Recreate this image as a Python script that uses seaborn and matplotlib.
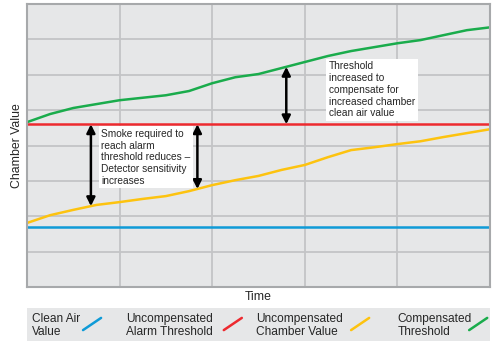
import numpy as np
import pandas as pd
import matplotlib
matplotlib.use("Agg")
import matplotlib.pyplot as plt
import seaborn as sns

# Data (time in grid columns, value in grid rows)
time = [0, 0.25, 0.5, 0.75, 1.0, 1.25, 1.5, 1.75, 2.0, 2.25, 2.5,
        2.75, 3.0, 3.25, 3.5, 3.75, 4.0, 4.25, 4.5, 4.75, 5.0]
compensated = [4.66, 4.89, 5.06, 5.17, 5.28, 5.35, 5.42, 5.54, 5.76, 5.93, 6.02,
               6.19, 6.36, 6.53, 6.67, 6.78, 6.89, 6.98, 7.12, 7.26, 7.34]
chamber = [1.81, 2.03, 2.18, 2.32, 2.40, 2.49, 2.57, 2.71, 2.88, 3.02, 3.14,
           3.31, 3.45, 3.67, 3.87, 3.95, 4.04, 4.12, 4.24, 4.35, 4.46]
clean_air = [1.70] * len(time)
alarm = [4.60] * len(time)

series_names = ["Clean Air\nValue", "Uncompensated\nAlarm Threshold",
                "Uncompensated\nChamber Value", "Compensated\nThreshold"]
series_colors = ["#0f9bd7", "#ed2a2f", "#fdc30f", "#1aac4c"]

# arrow positions (time) for the annotations
smoke_arrows = [0.69, 1.84]
comp_arrow = 2.80

df = pd.DataFrame({
    "time": time * 4,
    "value": clean_air + alarm + chamber + compensated,
    "series": sum([[n] * len(time) for n in series_names], []),
})

sns.set_style("white")
plt.rcParams["font.family"] = ["Liberation Sans", "DejaVu Sans"]

fig = plt.figure(figsize=(4.97, 3.41), dpi=100)
ax = fig.add_axes([27 / 497, 54 / 341, 463 / 497, 283 / 341])
ax.set_facecolor("#e6e7e8")

sns.lineplot(data=df, x="time", y="value", hue="series", hue_order=series_names,
             palette=series_colors, linewidth=1.8, legend=False, ax=ax)

ax.set_xlim(0, 5)
ax.set_ylim(0, 8)
ax.set_xticks(np.arange(0, 6, 1))
ax.set_yticks(np.arange(0, 9, 1))
ax.tick_params(length=0, labelbottom=False, labelleft=False)
ax.grid(True, color="#c3c4c6", linewidth=1.3)
ax.set_axisbelow(True)
for sp in ax.spines.values():
    sp.set_color("#a7a9ab")
    sp.set_linewidth(1.5)

ax.set_xlabel("Time", fontsize=8.8, labelpad=3)
ax.set_ylabel("Chamber Value", fontsize=8.8, labelpad=3)

# double headed arrows
arrow_kw = dict(arrowstyle="<|-|>,head_length=0.5,head_width=0.25",
                color="black", lw=1.8, shrinkA=0, shrinkB=0)
for t in smoke_arrows:
    ax.annotate("", xy=(t, np.interp(t, time, chamber)), xytext=(t, alarm[0]),
                arrowprops=arrow_kw, zorder=5)
ax.annotate("", xy=(comp_arrow, np.interp(comp_arrow, time, compensated)),
            xytext=(comp_arrow, alarm[0]), arrowprops=arrow_kw, zorder=5)

box = dict(boxstyle="square,pad=0.25", fc="white", ec="none")
ax.text(0.80, 4.47, "Smoke required to\nreach alarm\nthreshold reduces –\nDetector sensitivity\nincreases",
        fontsize=7.3, va="top", ha="left", linespacing=1.22, bbox=box, zorder=6)
ax.text(3.26, 6.38, "Threshold\nincreased to\ncompensate for\nincreased chamber\nclean air value",
        fontsize=7.3, va="top", ha="left", linespacing=1.22, bbox=box, zorder=6)

# legend strip
leg = fig.add_axes([27 / 497, 0, 463 / 497, 33 / 341])
leg.set_facecolor("#e6e7e8")
leg.set_xlim(0, 1)
leg.set_ylim(0, 1)
leg.set_xticks([])
leg.set_yticks([])
for sp in leg.spines.values():
    sp.set_visible(False)

text_x = [0.011, 0.214, 0.495, 0.801]
line_x = [0.121, 0.425, 0.700, 0.955]
for name, color, tx, lx in zip(series_names, series_colors, text_x, line_x):
    leg.text(tx, 0.47, name, fontsize=8.6, va="center", ha="left", linespacing=1.08)
    leg.plot([lx, lx + 0.039], [0.33, 0.70], color=color, lw=1.8)

fig.savefig("out.png", dpi=100)
